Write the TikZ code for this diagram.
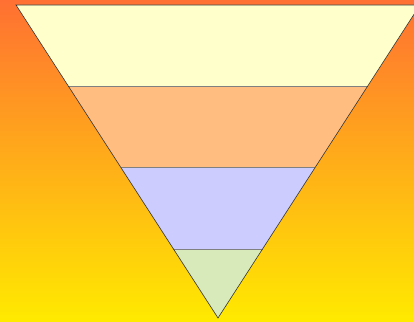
\documentclass[tikz,border=0pt]{standalone}
\usetikzlibrary{calc}
\definecolor{bgtop}{RGB}{255,112,50}
\definecolor{bgbot}{RGB}{255,234,0}
\definecolor{bandA}{RGB}{255,255,204}
\definecolor{bandB}{RGB}{255,189,128}
\definecolor{bandC}{RGB}{204,204,255}
\definecolor{bandD}{RGB}{217,234,186}
\tikzset{divider/.style={draw=black!50, line width=0.8pt},
  outline/.style={draw=black!80, line width=0.6pt, line join=miter}}
\begin{document}
\begin{tikzpicture}[x=1pt,y=-1pt]
\useasboundingbox (0,0) rectangle (414,321);
\shade[top color=bgtop, bottom color=bgbot] (0,0) rectangle (414,321);
\clip (0,0) rectangle (414,321);
\coordinate (L) at (16,5);
\coordinate (R) at (420,5);
\coordinate (A) at (218,318);
\coordinate (L1) at ($(L)!0.2588!(A)$);
\coordinate (R1) at ($(R)!0.2588!(A)$);
\coordinate (L2) at ($(L)!0.5176!(A)$);
\coordinate (R2) at ($(R)!0.5176!(A)$);
\coordinate (L3) at ($(L)!0.7796!(A)$);
\coordinate (R3) at ($(R)!0.7796!(A)$);
\fill[bandA] (L) -- (R) -- (R1) -- (L1) -- cycle;
\fill[bandB] (L1) -- (R1) -- (R2) -- (L2) -- cycle;
\fill[bandC] (L2) -- (R2) -- (R3) -- (L3) -- cycle;
\fill[bandD] (L3) -- (R3) -- (A) -- cycle;
\draw[divider] (L1) -- (R1);
\draw[divider] (L2) -- (R2);
\draw[divider] (L3) -- (R3);
\draw[outline] (L) -- (R) -- (A) -- cycle;
\end{tikzpicture}
\end{document}
